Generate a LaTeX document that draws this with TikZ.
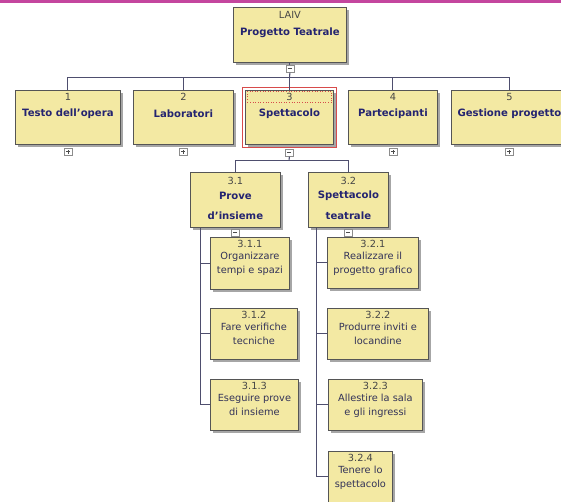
\documentclass[tikz,border=0pt]{standalone}
\usepackage{fontspec}
\setmainfont{DejaVu Sans}
\usetikzlibrary{shadows,fit}

\definecolor{boxfill}{RGB}{243,233,163}
\definecolor{boxedge}{RGB}{85,85,85}
\definecolor{linkcol}{RGB}{78,78,110}
\definecolor{titlecol}{RGB}{36,36,112}
\definecolor{numcol}{RGB}{70,70,70}
\definecolor{smallcol}{RGB}{50,50,88}
\definecolor{topbar}{RGB}{196,70,158}
\definecolor{selred}{RGB}{215,75,75}

\newcommand{\apos}{{\char39}}

\tikzset{
  wbs/.style={draw=boxedge, fill=boxfill, line width=0.8pt, rectangle,
    inner sep=0pt, anchor=north west,
    general shadow={fill=black!35, shadow xshift=2.5pt, shadow yshift=-2.5pt}},
  numtxt/.style={text=numcol, font=\fontsize{9.8}{11}\selectfont, inner sep=0pt},
  bigtxt/.style={text=titlecol, font=\fontsize{10.1}{12}\selectfont\bfseries, inner sep=0pt},
  smalltxt/.style={text=smallcol, font=\fontsize{9.8}{13.5}\selectfont, align=center, inner sep=0pt, anchor=north},
  conn/.style={draw=linkcol, line width=1.1pt},
  toggle/.style={draw=black!45, fill=white, line width=0.6pt, minimum width=8pt,
    minimum height=7pt, inner sep=0pt},
  minus/.style={toggle, path picture={\draw[black!70, line width=0.8pt]
    ([xshift=-2pt]path picture bounding box.center) -- ([xshift=2pt]path picture bounding box.center);}},
  plus/.style={toggle, path picture={\draw[black!70, line width=0.8pt]
    ([xshift=-2pt]path picture bounding box.center) -- ([xshift=2pt]path picture bounding box.center)
    ([yshift=-2pt]path picture bounding box.center) -- ([yshift=2pt]path picture bounding box.center);}},
}

% \wbsbox{name}{left}{top}{right}{bottom}
\newcommand{\wbsbox}[5]{%
  \node[wbs, minimum width={#4pt-#2pt}, minimum height={#5pt-#3pt}] (#1) at (#2,#3) {};}

\begin{document}
\begin{tikzpicture}[x=1pt, y=-1pt]
\useasboundingbox (0,0) rectangle (561,501);
\clip (0,0) rectangle (561,501);
\fill[white] (0,0) rectangle (561,501);
\fill[topbar] (0,0) rectangle (561,3);

% ---- root ----
\wbsbox{root}{233}{7}{346}{62}
\node[numtxt] (root-n) at ([yshift=-8pt]root.north) {LAIV};
\node[bigtxt] (root-l) at ([yshift=-26pt]root.north) {Progetto Teatrale};

% ---- level 1 ----
\wbsbox{n1}{15}{90}{120}{144}
\wbsbox{n2}{133}{90}{233}{144}
\wbsbox{n3}{245}{90}{333}{144}
\wbsbox{n4}{348}{90}{437}{144}
\wbsbox{n5}{451}{90}{567}{144}
\node[numtxt] (n1-n) at ([yshift=-7pt]n1.north) {1};
\node[numtxt] (n2-n) at ([yshift=-7pt]n2.north) {2};
\node[numtxt, draw=selred, dotted, line width=0.6pt, minimum width=84pt, minimum height=11.5pt]
  (n3-n) at ([yshift=-7pt]n3.north) {3};
\node[numtxt] (n4-n) at ([yshift=-7pt]n4.north) {4};
\node[numtxt] (n5-n) at ([yshift=-7pt]n5.north) {5};
\node[bigtxt] (n1-l) at ([yshift=-24pt]n1.north) {Testo dell\apos opera};
\node[bigtxt] (n2-l) at ([yshift=-24pt]n2.north) {Laboratori};
\node[bigtxt] (n3-l) at ([yshift=-24pt]n3.north) {Spettacolo};
\node[bigtxt] (n4-l) at ([yshift=-24pt]n4.north) {Partecipanti};
\node[bigtxt] (n5-l) at ([yshift=-24pt]n5.north) {Gestione progetto};
\node[draw=selred, line width=0.8pt, fit=(n3), inner sep=3pt] (sel) {};

% ---- level 2 ----
\wbsbox{p31}{190}{172}{280}{227}
\wbsbox{p32}{308}{172}{388}{227}
\node[numtxt] (p31-n) at ([yshift=-8.5pt]p31.north) {3.1};
\node[numtxt] (p32-n) at ([yshift=-8.5pt]p32.north) {3.2};
\node[bigtxt] (p31-a) at ([yshift=-24pt]p31.north) {Prove};
\node[bigtxt] (p31-b) at ([yshift=-44pt]p31.north) {d\apos insieme};
\node[bigtxt] (p32-a) at ([yshift=-24pt]p32.north) {Spettacolo};
\node[bigtxt] (p32-b) at ([yshift=-44pt]p32.north) {teatrale};

% ---- level 3 ----
\wbsbox{c311}{210}{237}{289}{289}
\wbsbox{c312}{210}{308}{297}{359}
\wbsbox{c313}{210}{379}{298}{430}
\wbsbox{c321}{327}{237}{418}{288}
\wbsbox{c322}{327}{308}{428}{359}
\wbsbox{c323}{328}{379}{422}{430}
\wbsbox{c324}{328}{451}{392}{520}
\node[numtxt] (c311-n) at ([yshift=-7pt]c311.north) {3.1.1};
\node[numtxt] (c312-n) at ([yshift=-7pt]c312.north) {3.1.2};
\node[numtxt] (c313-n) at ([yshift=-7pt]c313.north) {3.1.3};
\node[numtxt] (c321-n) at ([yshift=-7pt]c321.north) {3.2.1};
\node[numtxt] (c322-n) at ([yshift=-7pt]c322.north) {3.2.2};
\node[numtxt] (c323-n) at ([yshift=-7pt]c323.north) {3.2.3};
\node[numtxt] (c324-n) at ([yshift=-7pt]c324.north) {3.2.4};
\node[smalltxt] (c311-l) at ([yshift=-15pt]c311.north) {Organizzare\\tempi e spazi};
\node[smalltxt] (c312-l) at ([yshift=-15pt]c312.north) {Fare verifiche\\tecniche};
\node[smalltxt] (c313-l) at ([yshift=-15pt]c313.north) {Eseguire prove\\di insieme};
\node[smalltxt] (c321-l) at ([yshift=-15pt]c321.north) {Realizzare il\\progetto grafico};
\node[smalltxt] (c322-l) at ([yshift=-15pt]c322.north) {Produrre inviti e\\locandine};
\node[smalltxt] (c323-l) at ([yshift=-15pt]c323.north) {Allestire la sala\\e gli ingressi};
\node[smalltxt] (c324-l) at ([yshift=-15pt]c324.north) {Tenere lo\\spettacolo};

% ---- connectors ----
\coordinate (bus1) at (289.5,77.5);
\coordinate (bus2) at (289,160.5);
\node[minus] (t0) at ([yshift=-6pt]root.south) {};
\draw[conn] (root.south) -- (t0.north);
\draw[conn] (t0.south) -- (bus1);
\draw[conn] (n1.north) |- (bus1) -| (n5.north);
\draw[conn] (n2.north) -- (n2.north |- bus1);
\draw[conn] (n3.north) -- (n3.north |- bus1);
\draw[conn] (n4.north) -- (n4.north |- bus1);

\node[plus]  (t1) at ([yshift=-7pt]n1.south) {};
\node[plus]  (t2) at ([yshift=-7pt]n2.south) {};
\node[minus] (t3) at ([yshift=-8pt]n3.south) {};
\node[plus]  (t4) at ([yshift=-7pt]n4.south) {};
\node[plus]  (t5) at ([yshift=-7pt]n5.south) {};
\draw[conn] (t3.south) -- (bus2);
\draw[conn] (p31.north) |- (bus2) -| (p32.north);

\node[minus] (t31) at ([yshift=-5pt]p31.south) {};
\node[minus] (t32) at ([yshift=-5pt]p32.south) {};

% trunks drawn once, then a stub to every child
\draw[conn] ([xshift=10.5pt]p31.south west) coordinate (tr1) |- (c313.west);
\draw[conn] (tr1 |- c311.west) -- (c311.west);
\draw[conn] (tr1 |- c312.west) -- (c312.west);
\coordinate (c324in) at (c324.west |- 0,476.5);
\draw[conn] ([xshift=8.5pt]p32.south west) coordinate (tr2) |- (c324in);
\draw[conn] (tr2 |- c321.west) -- (c321.west);
\draw[conn] (tr2 |- c322.west) -- (c322.west);
\draw[conn] (tr2 |- c323.west) -- (c323.west);
\end{tikzpicture}
\end{document}
